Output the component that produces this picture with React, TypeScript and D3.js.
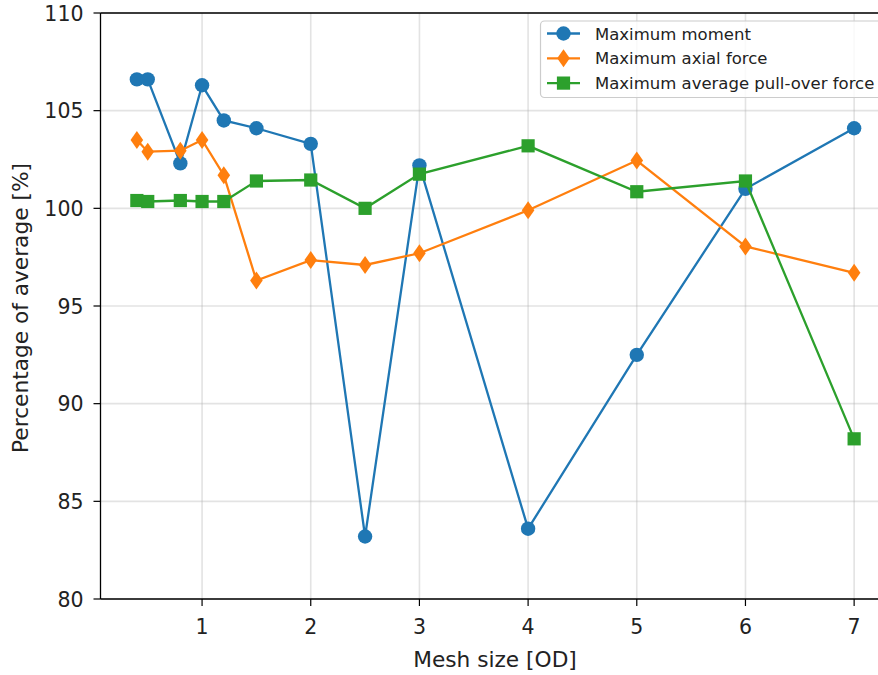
import React from "react";
import * as d3 from "d3";

const meshSizes = [0.4, 0.5, 0.8, 1.0, 1.2, 1.5, 2, 2.5, 3, 4, 5, 6, 7];
const maxMoment = [106.6, 106.6, 102.3, 106.3, 104.5, 104.1, 103.3, 83.2, 102.2, 83.6, 92.5, 101.0, 104.1];
const maxAxial = [103.5, 102.9, 102.95, 103.5, 101.7, 96.3, 97.35, 97.1, 97.7, 99.9, 102.45, 98.05, 96.7];
const maxPullOver = [100.4, 100.35, 100.4, 100.35, 100.35, 101.4, 101.45, 100.0, 101.75, 103.2, 100.85, 101.4, 88.2];
const xTicks = [1, 2, 3, 4, 5, 6, 7];
const yTicks = [80, 85, 90, 95, 100, 105, 110];
const seriesNames = ["Maximum moment", "Maximum axial force", "Maximum average pull-over force"];
const seriesColors = ["#1f77b4", "#ff7f0e", "#2ca02c"];
const seriesMarkers = ["circle", "diamond", "square"];

const W = 878;
const H = 675;
const left = 100.5;
const top = 13;
const bottom = 599;
const right = 890;

function Marker({ kind, x, y, color }: { kind: string; x: number; y: number; color: string }) {
  if (kind === "circle") return <circle cx={x} cy={y} r={7.2} fill={color} />;
  if (kind === "diamond")
    return <path d={`M${x},${y - 9} L${x + 6.3},${y} L${x},${y + 9} L${x - 6.3},${y} Z`} fill={color} />;
  return <rect x={x - 6.6} y={y - 6.6} width={13.2} height={13.2} fill={color} />;
}

export default function App() {
  const x = d3.scaleLinear().domain([0.07, 7.33]).range([101, 890]);
  const y = d3.scaleLinear().domain([80, 110]).range([bottom, top]);
  const allSeries = [maxMoment, maxAxial, maxPullOver];
  const line = d3
    .line<[number, number]>()
    .x((d) => x(d[0]))
    .y((d) => y(d[1]));
  const font = "'DejaVu Sans', sans-serif";
  return (
    <svg
      width={W}
      height={H}
      style={{ position: "absolute", left: 0, top: 0, background: "#fff" }}
      fontFamily={font}
    >
      <rect x={0} y={0} width={W} height={H} fill="#fff" />
      {/* grid */}
      {xTicks.map((t) => (
        <line key={"gx" + t} x1={x(t)} x2={x(t)} y1={top} y2={bottom} stroke="#b0b0b0" strokeOpacity={0.35} strokeWidth={1.6} />
      ))}
      {yTicks.map((t) => (
        <line key={"gy" + t} x1={left} x2={right} y1={y(t)} y2={y(t)} stroke="#b0b0b0" strokeOpacity={0.35} strokeWidth={1.6} />
      ))}
      {/* series */}
      {allSeries.map((vals, i) => {
        const pts = meshSizes.map((m, j) => [m, vals[j]] as [number, number]);
        return (
          <g key={"s" + i}>
            <path d={line(pts) || ""} fill="none" stroke={seriesColors[i]} strokeWidth={2.3} />
            {pts.map((p, j) => (
              <Marker key={j} kind={seriesMarkers[i]} x={x(p[0])} y={y(p[1])} color={seriesColors[i]} />
            ))}
          </g>
        );
      })}
      {/* spines */}
      <line x1={left} x2={left} y1={top} y2={bottom} stroke="#000" strokeWidth={1.3} />
      <line x1={left} x2={right} y1={bottom} y2={bottom} stroke="#000" strokeWidth={1.3} />
      <line x1={left} x2={right} y1={top} y2={top} stroke="#000" strokeWidth={1.3} />
      {/* ticks */}
      {xTicks.map((t) => (
        <g key={"tx" + t}>
          <line x1={x(t)} x2={x(t)} y1={bottom} y2={bottom + 7} stroke="#000" strokeWidth={1.2} />
          <text x={x(t)} y={bottom + 35} textAnchor="middle" fontSize={20.5} fill="#222">
            {t}
          </text>
        </g>
      ))}
      {yTicks.map((t) => (
        <g key={"ty" + t}>
          <line x1={left - 7} x2={left} y1={y(t)} y2={y(t)} stroke="#000" strokeWidth={1.2} />
          <text x={left - 17} y={y(t) + 7.5} textAnchor="end" fontSize={20.5} fill="#222">
            {t}
          </text>
        </g>
      ))}
      <text x={495} y={667} textAnchor="middle" fontSize={21.7} fill="#222">
        Mesh size [OD]
      </text>
      <text
        transform={`translate(28,308) rotate(-90)`}
        textAnchor="middle"
        fontSize={21.7}
        fill="#222"
      >
        Percentage of average [%]
      </text>
      {/* legend */}
      <rect x={540.5} y={21} width={380} height={76.5} rx={4} fill="#fff" fillOpacity={0.8} stroke="#cccccc" strokeWidth={1.2} />
      {seriesNames.map((name, i) => {
        const ly = 33.5 + i * 24.8;
        return (
          <g key={"l" + i}>
            <line x1={547} x2={580} y1={ly} y2={ly} stroke={seriesColors[i]} strokeWidth={2.3} />
            <Marker kind={seriesMarkers[i]} x={563.5} y={ly} color={seriesColors[i]} />
            <text x={595} y={ly + 6} fontSize={16.5} fill="#222">
              {name}
            </text>
          </g>
        );
      })}
    </svg>
  );
}
